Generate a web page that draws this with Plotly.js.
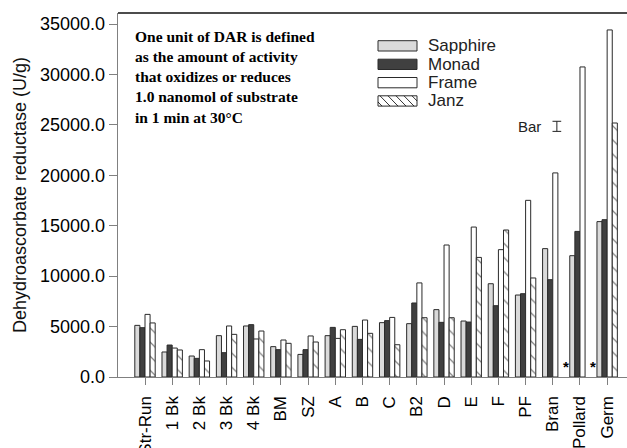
<!DOCTYPE html>
<html>
<head>
<meta charset="utf-8">
<script src="https://cdn.plot.ly/plotly-3.0.1.min.js"></script>
<style>html,body{margin:0;padding:0;background:#fff;}#chart{width:627px;height:448px;}</style>
</head>
<body>
<div id="chart"></div>
<script>
// ---- data ----
var categories = ["Str-Run","1 Bk","2 Bk","3 Bk","4 Bk","BM","SZ","A","B","C","B2","D","E","F","PF","Bran","Pollard","Germ"];
var sapphire = [5120, 2480, 2080, 4100, 5060, 3010, 2240, 4100, 5020, 5390, 5290, 6680, 5550, 9250, 8130, 12730, 12030, 15410];
var monad    = [4890, 3170, 1850, 2410, 5190, 2710, 2710, 4920, 3730, 5590, 7340, 5420, 5450, 7070, 8260, 9650, 14440, 15600];
var frame    = [6210, 2870, 2710, 5060, 3770, 3670, 4070, 3830, 5650, 5910, 9330, 13090, 14870, 12630, 17520, 20240, 30750, 34420];
var janz     = [5360, 2680, 1590, 4230, 4560, 3340, 3470, 4690, 4330, 3200, 5880, 5880, 11860, 14580, 9820, null, null, 25190];
var seriesNames = ["Sapphire","Monad","Frame","Janz"];
var missingJanz = ["Bran","Pollard"];
var noteLines = ["One unit of DAR is defined","as the amount of activity","that oxidizes or reduces","1.0 nanomol of substrate","in 1 min at 30°C"];
var scaleBarSize = 1000; // "Bar" reference (U/g)
var yTitle = "Dehydroascorbate reductase (U/g)";

// ---- layout geometry ----
var W = 627, H = 448;
var mL = 118, mR = 0, mT = 13, mB = 71;
var plotW = W - mL - mR, plotH = H - mT - mB;
function px(x){ return (x - mL) / plotW; }
function py(y){ return (H - mB - y) / plotH; }

var outline = {color: "#2a2a2a", width: 1};
var traces = [
  {type:"bar", name:seriesNames[0], x:categories, y:sapphire, marker:{color:"#dadada", line:outline}},
  {type:"bar", name:seriesNames[1], x:categories, y:monad, marker:{color:"#404040", line:outline}},
  {type:"bar", name:seriesNames[2], x:categories, y:frame, marker:{color:"#ffffff", line:outline}},
  {type:"bar", name:seriesNames[3], x:categories, y:janz, marker:{color:"#ffffff", line:outline,
     pattern:{shape:"\\", size:10, solidity:0.12, fgcolor:"#000", bgcolor:"#fff", fillmode:"overlay"}}}
];

var shapes = [];
var annotations = [];
// top border line
shapes.push({type:"line", xref:"paper", yref:"paper", x0:0, x1:1, y0:1, y1:1, line:{color:"#111", width:1.5}});

// custom legend
var legFill = ["#dadada","#404040","#ffffff","#ffffff"];
var legTop = [40.7, 59.2, 77.5, 95.8];
for (var i=0;i<4;i++){
  var t = legTop[i], b = t + 10.3;
  shapes.push({type:"rect", xref:"paper", yref:"paper", x0:px(378), x1:px(417), y0:py(b), y1:py(t),
    fillcolor:legFill[i], line:{color:"#2a2a2a", width:1}});
  annotations.push({xref:"paper", yref:"paper", x:px(426), y:py((t+b)/2), xanchor:"left", yanchor:"middle",
    text:seriesNames[i], showarrow:false, font:{family:"Liberation Sans, Arial", size:17, color:"#222"}});
}
// hatch in Janz legend box
(function(){
  var t = legTop[3], b = t + 10.3, d = "";
  for (var x0 = 372; x0 < 417; x0 += 8){
    var xa = x0, ya = t, xb = x0 + 10, yb = b;
    if (xa < 378){ ya = t + (378 - xa) * (b - t) / 10; xa = 378; }
    if (xb > 417){ yb = t + (417 - x0) * (b - t) / 10; xb = 417; }
    d += "M" + px(xa) + "," + py(ya) + "L" + px(xb) + "," + py(yb);
  }
  shapes.push({type:"path", xref:"paper", yref:"paper", path:d, line:{color:"#000", width:0.8}});
})();

// note text
annotations.push({xref:"paper", yref:"paper", x:px(133), y:py(26), xanchor:"left", yanchor:"top", align:"left",
  text:"<b>" + noteLines.join("<br>") + "</b>", showarrow:false,
  font:{family:"Liberation Serif, Times New Roman", size:15.5, color:"#000"}});

// "Bar" reference
var barX = 15.15, barY = 24860;
annotations.push({xref:"x", yref:"y", x:barX, y:barY, xshift:-14, xanchor:"right", yanchor:"middle",
  text:"Bar", showarrow:false, font:{family:"Liberation Sans, Arial", size:15, color:"#222"}});
var capW = 0.16;
shapes.push({type:"line", xref:"x", yref:"y", x0:barX, x1:barX, y0:barY - scaleBarSize/2, y1:barY + scaleBarSize/2, line:{color:"#222", width:1}});
shapes.push({type:"line", xref:"x", yref:"y", x0:barX-capW, x1:barX+capW, y0:barY - scaleBarSize/2, y1:barY - scaleBarSize/2, line:{color:"#222", width:1}});
shapes.push({type:"line", xref:"x", yref:"y", x0:barX-capW, x1:barX+capW, y0:barY + scaleBarSize/2, y1:barY + scaleBarSize/2, line:{color:"#222", width:1}});

// asterisks for missing Janz values
missingJanz.forEach(function(c){
  annotations.push({xref:"x", yref:"y", x:c, y:0, xshift:13.5, yshift:0, xanchor:"center", yanchor:"bottom",
    text:"<b>*</b>", showarrow:false, font:{family:"Liberation Sans, Arial", size:15, color:"#000"}});
});

var layout = {
  width: W, height: H,
  margin: {l:mL, r:mR, t:mT, b:mB, pad:0},
  paper_bgcolor:"#fff", plot_bgcolor:"#fff",
  barmode:"group", bargap:0.25, bargroupgap:0,
  showlegend:false,
  font:{family:"Liberation Sans, Arial", color:"#000"},
  xaxis:{type:"category", range:[-0.993, 17.73], showgrid:false, zeroline:false,
    showline:true, linecolor:"#808080", linewidth:1.3,
    ticks:"outside", ticklen:7, tickcolor:"#808080", tickwidth:1,
    ticklabelstandoff:4,
    tickangle:-90, tickfont:{size:17, color:"#000"}},
  yaxis:{range:[0, 36100], dtick:5000, tick0:0, tickformat:".1f", showgrid:false, zeroline:false,
    showline:true, linecolor:"#808080", linewidth:1.3,
    ticks:"outside", ticklen:8, tickcolor:"#808080", tickwidth:1,
    tickfont:{size:18, color:"#000"},
    title:{text:yTitle, font:{size:18, color:"#111"}, standoff:8}},
  shapes: shapes,
  annotations: annotations
};

Plotly.newPlot("chart", traces, layout, {staticPlot:true, displayModeBar:false});
</script>
</body>
</html>
